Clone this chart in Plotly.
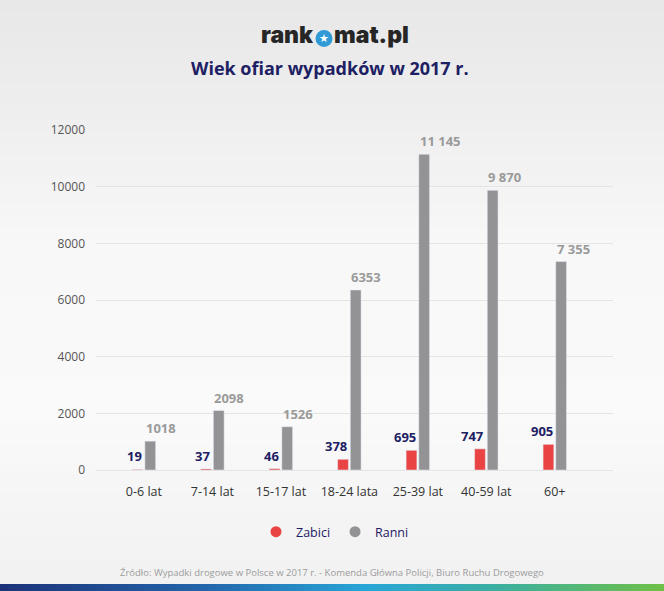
import plotly.graph_objects as go

# ---- data ----
categories = ["0-6 lat", "7-14 lat", "15-17 lat", "18-24 lata", "25-39 lat", "40-59 lat", "60+"]
zabici = [19, 37, 46, 378, 695, 747, 905]
ranni = [1018, 2098, 1526, 6353, 11145, 9870, 7355]
zabici_labels = ["19", "37", "46", "378", "695", "747", "905"]
ranni_labels = ["1018", "2098", "1526", "6353", "11 145", "9 870", "7 355"]
y_ticks = [0, 2000, 4000, 6000, 8000, 10000, 12000]

# ---- layout geometry ----
W, H = 664, 591
L, R, T, B = 96, 51, 130, 121
PW, PH = W - L - R, H - T - B

def px(xp):
    return (xp - L) / PW

def py(yp):
    return (H - B - yp) / PH

FONT = "Open Sans"
NAVY = "#1d2063"
RED = "#e94343"
GRAY = "#939396"

fig = go.Figure()
fig.add_trace(go.Bar(x=list(range(len(categories))), y=zabici, marker_color=RED,
                     name="Zabici", showlegend=False, hoverinfo="skip"))
fig.add_trace(go.Bar(x=list(range(len(categories))), y=ranni, marker_color=GRAY,
                     name="Ranni", showlegend=False, hoverinfo="skip"))
# legend entries with round symbols
fig.add_trace(go.Scatter(x=[None], y=[None], mode="markers", name="Zabici",
                         marker=dict(color=RED, size=11, symbol="circle")))
fig.add_trace(go.Scatter(x=[None], y=[None], mode="markers", name="Ranni",
                         marker=dict(color=GRAY, size=11, symbol="circle")))

annotations = []
for i, (v, t) in enumerate(zip(zabici, zabici_labels)):
    annotations.append(dict(x=i, y=v, xref="x", yref="y", text=f"<b>{t}</b>", showarrow=False,
                            xanchor="right", yanchor="bottom", yshift=2,
                            font=dict(family=FONT, size=13, color=NAVY)))
for i, (v, t) in enumerate(zip(ranni, ranni_labels)):
    annotations.append(dict(x=i, y=v, xref="x", yref="y", text=f"<b>{t}</b>", showarrow=False,
                            xanchor="left", yanchor="bottom", yshift=2,
                            font=dict(family=FONT, size=13, color="#9a9a9a")))

# logo
LOGO_FONT = dict(family="Inter", size=23, color="#262626", weight=900)
annotations.append(dict(x=px(316), y=py(35), xref="paper", yref="paper", text="rank",
                        showarrow=False, xanchor="right", yanchor="middle", font=LOGO_FONT))
annotations.append(dict(x=px(332), y=py(35), xref="paper", yref="paper", text="mat.pl",
                        showarrow=False, xanchor="left", yanchor="middle", font=LOGO_FONT))
annotations.append(dict(x=px(324), y=py(38.5), xref="paper", yref="paper", text="★",
                        showarrow=False, xanchor="center", yanchor="middle",
                        font=dict(family="DejaVu Sans", size=11, color="white")))
# title
annotations.append(dict(x=px(330), y=py(68), xref="paper", yref="paper",
                        text="<b>Wiek ofiar wypadków w 2017 r.</b>", showarrow=False,
                        xanchor="center", yanchor="middle",
                        font=dict(family=FONT, size=18, color=NAVY)))
# source
annotations.append(dict(x=px(332), y=py(572), xref="paper", yref="paper",
                        text="Źródło: Wypadki drogowe w Polsce w 2017 r. - Komenda Główna Policji, Biuro Ruchu Drogowego",
                        showarrow=False, xanchor="center", yanchor="middle",
                        font=dict(family=FONT, size=9.5, color="#9c9c9c")))

shapes = []
# background vertical gradient
stops = [(0, (232, 232, 232)), (110, (238, 238, 238)), (250, (248, 248, 248)),
         (420, (250, 250, 250)), (500, (245, 245, 245)), (591, (241, 241, 241))]
def bg_col(y):
    for (y0, c0), (y1, c1) in zip(stops[:-1], stops[1:]):
        if y0 <= y <= y1:
            f = (y - y0) / (y1 - y0)
            return "rgb(%d,%d,%d)" % tuple(round(a + (b - a) * f) for a, b in zip(c0, c1))
    return "rgb(241,241,241)"
step = 6
for y0 in range(0, H, step):
    shapes.append(dict(type="rect", xref="paper", yref="paper", layer="below",
                       x0=px(0), x1=px(W), y0=py(y0), y1=py(min(H, y0 + step + 1)),
                       fillcolor=bg_col(y0 + step / 2), line=dict(width=0)))
# bottom gradient strip
gstops = [(0.0, (28, 50, 120)), (0.3, (35, 100, 170)), (0.55, (40, 165, 215)),
          (0.75, (60, 175, 160)), (1.0, (110, 192, 70))]
def g_col(f):
    for (f0, c0), (f1, c1) in zip(gstops[:-1], gstops[1:]):
        if f0 <= f <= f1:
            t = (f - f0) / (f1 - f0)
            return "rgb(%d,%d,%d)" % tuple(round(a + (b - a) * t) for a, b in zip(c0, c1))
    return "rgb(110,192,70)"
n = 83
for k in range(n):
    x0 = W * k / n
    x1 = W * (k + 1) / n + 0.6
    shapes.append(dict(type="rect", xref="paper", yref="paper", layer="below",
                       x0=px(x0), x1=px(x1), y0=py(584), y1=py(H),
                       fillcolor=g_col((k + 0.5) / n), line=dict(width=0)))
# logo circle
shapes.append(dict(type="circle", xref="paper", yref="paper", layer="above",
                   x0=px(315.5), x1=px(332.5), y0=py(30), y1=py(47),
                   fillcolor="#2f9ad6", line=dict(width=0)))

fig.update_layout(
    width=W, height=H,
    margin=dict(l=L, r=R, t=T, b=B),
    paper_bgcolor="#f4f4f4", plot_bgcolor="rgba(0,0,0,0)",
    barmode="group", bargap=0.63, bargroupgap=0.15,
    font=dict(family=FONT),
    showlegend=True,
    legend=dict(orientation="h", x=px(335), y=py(532), xanchor="center", yanchor="middle",
                font=dict(family=FONT, size=12.5, color=NAVY), bgcolor="rgba(0,0,0,0)",
                itemclick=False, itemdoubleclick=False),
    xaxis=dict(type="linear", range=[-0.70, 6.85], tickmode="array",
               tickvals=list(range(len(categories))), ticktext=categories,
               showgrid=False, zeroline=False, showline=False, ticks="",
               ticklabelstandoff=12,
               tickfont=dict(family=FONT, size=12.5, color="#333333")),
    yaxis=dict(range=[0, 12000], tickmode="array", tickvals=y_ticks,
               ticktext=[str(v) for v in y_ticks],
               showgrid=True, gridcolor="#e4e4e4", gridwidth=1,
               zeroline=True, zerolinecolor="#e4e4e4", zerolinewidth=1,
               showline=False, ticks="", ticklabelstandoff=10,
               tickfont=dict(family=FONT, size=12, color="#555555")),
    annotations=annotations, shapes=shapes,
    hovermode=False,
)

fig.write_html("out.html")
